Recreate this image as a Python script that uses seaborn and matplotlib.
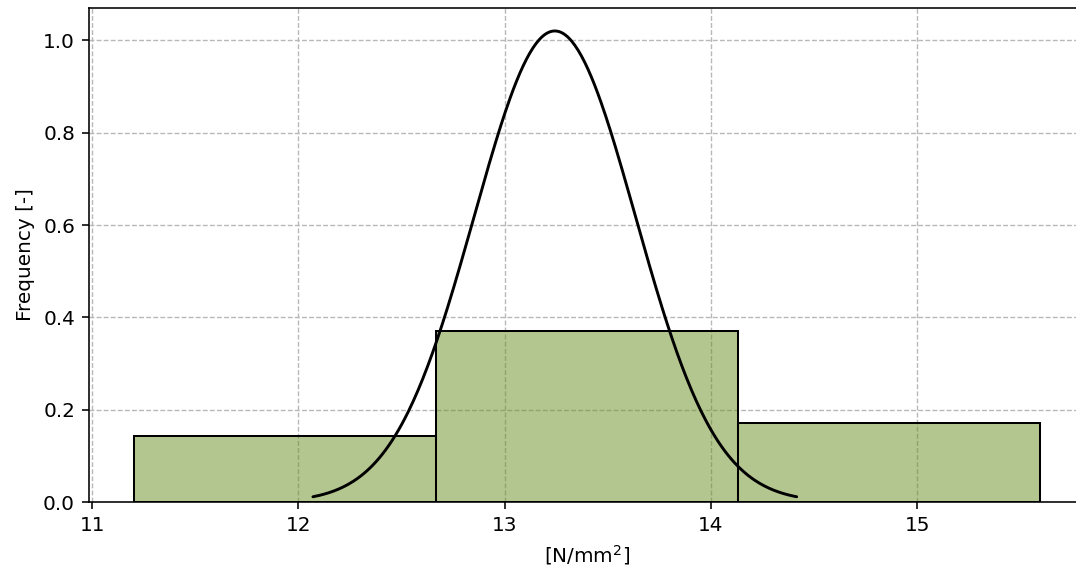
import numpy as np
import matplotlib
matplotlib.use("Agg")
import matplotlib.pyplot as plt
import seaborn as sns

# Histogram bins (N/mm^2) and density heights per bin
bin_edges = [11.204, 12.669, 14.133, 15.598]
bin_heights = [0.1422, 0.3698, 0.1707]

# Fitted normal distribution parameters
mu = 13.243
sigma = 0.391

sns.set_style("white")
plt.rcParams["font.family"] = ["DejaVu Sans"]
plt.rcParams["text.color"] = "black"
plt.rcParams["axes.labelcolor"] = "black"
plt.rcParams["xtick.color"] = "black"
plt.rcParams["ytick.color"] = "black"

FS = 14.4
fig = plt.figure(figsize=(10.76, 5.73), dpi=100)
ax = fig.add_axes([0.0827, 0.1239, 0.9264, 0.8621])

bar_face = (107 / 255, 142 / 255, 35 / 255, 0.5)
centers = [(a + b) / 2 for a, b in zip(bin_edges[:-1], bin_edges[1:])]
sns.histplot(x=centers, weights=bin_heights, bins=bin_edges, stat="count",
             color=bar_face, edgecolor="black", linewidth=1.45, ax=ax)
for p in ax.patches:
    p.set_facecolor(bar_face)
    p.set_edgecolor((0, 0, 0, 1))

xs = np.linspace(mu - 3 * sigma, mu + 3 * sigma, 300)
pdf = np.exp(-0.5 * ((xs - mu) / sigma) ** 2) / (sigma * np.sqrt(2 * np.pi))
sns.lineplot(x=xs, y=pdf, color="black", linewidth=2.1, ax=ax)

ax.set_xlim(10.984, 15.818)
ax.set_ylim(0, 1.07)
ax.set_xticks([11, 12, 13, 14, 15])
ax.set_yticks([0.0, 0.2, 0.4, 0.6, 0.8, 1.0])
ax.grid(True, linestyle="--", color="#b8b8b8", linewidth=1.0, dashes=(3.5, 1.6))
ax.set_axisbelow(True)
for s in ax.spines.values():
    s.set_color("black")
    s.set_linewidth(1.15)
ax.tick_params(axis="both", which="major", length=5, width=1.15, labelsize=FS,
               pad=5, direction="out", bottom=True, left=True, colors="black")
ax.set_xlabel("[N/mm$^2$]", fontsize=FS, labelpad=5.8)
ax.set_ylabel("Frequency [-]", fontsize=FS, labelpad=5.8)

fig.savefig("out.png", dpi=100)
